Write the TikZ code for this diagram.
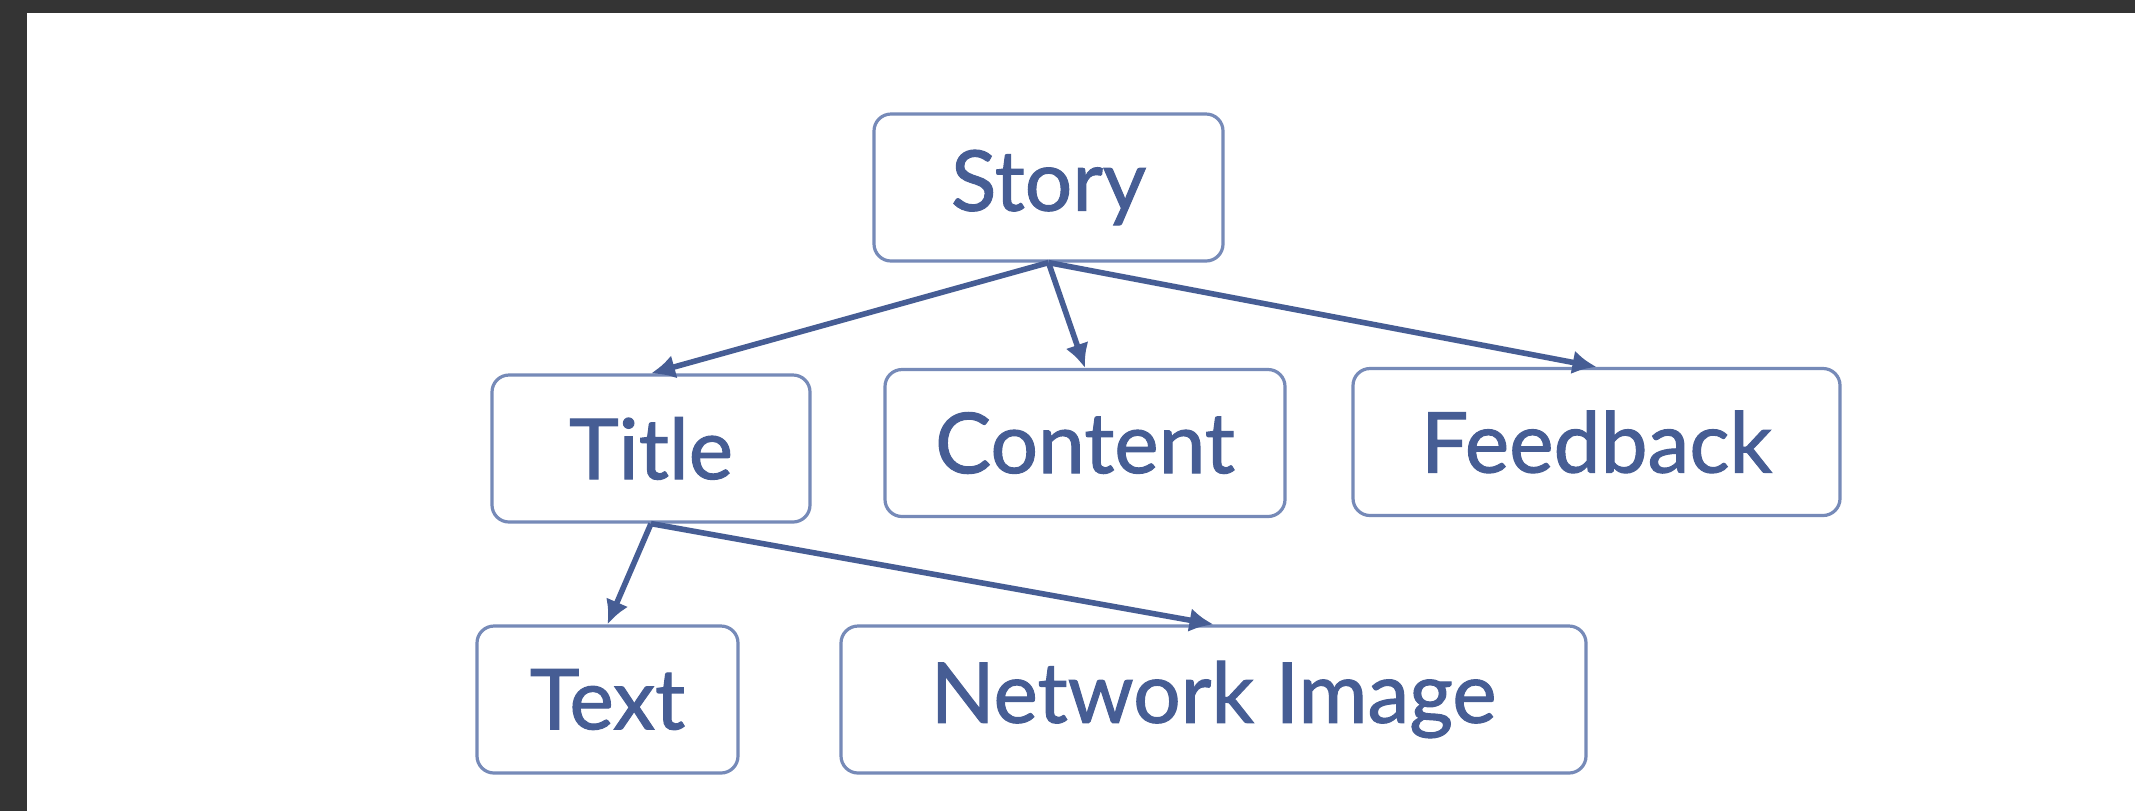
\documentclass[tikz,border=0pt]{standalone}
\usepackage{fontspec}
\setmainfont{Lato}
\newfontfamily\boxfont{Lato}[FakeBold=1.2]
\usetikzlibrary{arrows.meta}
\definecolor{inkblue}{RGB}{70,93,148}
\definecolor{boxblue}{RGB}{118,138,184}
\definecolor{frame}{RGB}{52,52,52}
\begin{document}
\begin{tikzpicture}[x=0.5pt,y=-0.5pt,
  box/.style={draw=boxblue, line width=1.6pt, rounded corners=8.5pt, text=inkblue,
    minimum height=73.5pt, inner sep=0pt, font=\boxfont\fontsize{42}{50}\selectfont},
  link/.style={draw=inkblue, line width=2.8pt, -{Latex[length=12pt,width=12pt]}}]

\fill[frame] (0,0) rectangle (2135,811);
\fill[white] (27,13) rectangle (2135,811);
\useasboundingbox (0,0) rectangle (2135,811);

\node[box, minimum width=174.5pt] (story) at (1048.5,187.5) {Story};
\node[box, minimum width=159pt] (title) at (651,448.5) {Title};
\node[box, minimum width=200pt] (content) at (1085,443) {Content};
\node[box, minimum width=243.5pt] (feedback) at (1596.5,442) {Feedback};
\node[box, minimum width=130.5pt] (text) at (607.5,699.5) {Text};
\node[box, minimum width=372.5pt] (netimage) at (1213.5,699.5) {Network Image};

\draw[link] (story.south) -- (title.north);
\draw[link] (story.south) -- (content.north);
\draw[link] (story.south) -- (feedback.north);
\draw[link] (title.south) -- (text.north);
\draw[link] (title.south) -- (netimage.north);

\end{tikzpicture}
\end{document}
